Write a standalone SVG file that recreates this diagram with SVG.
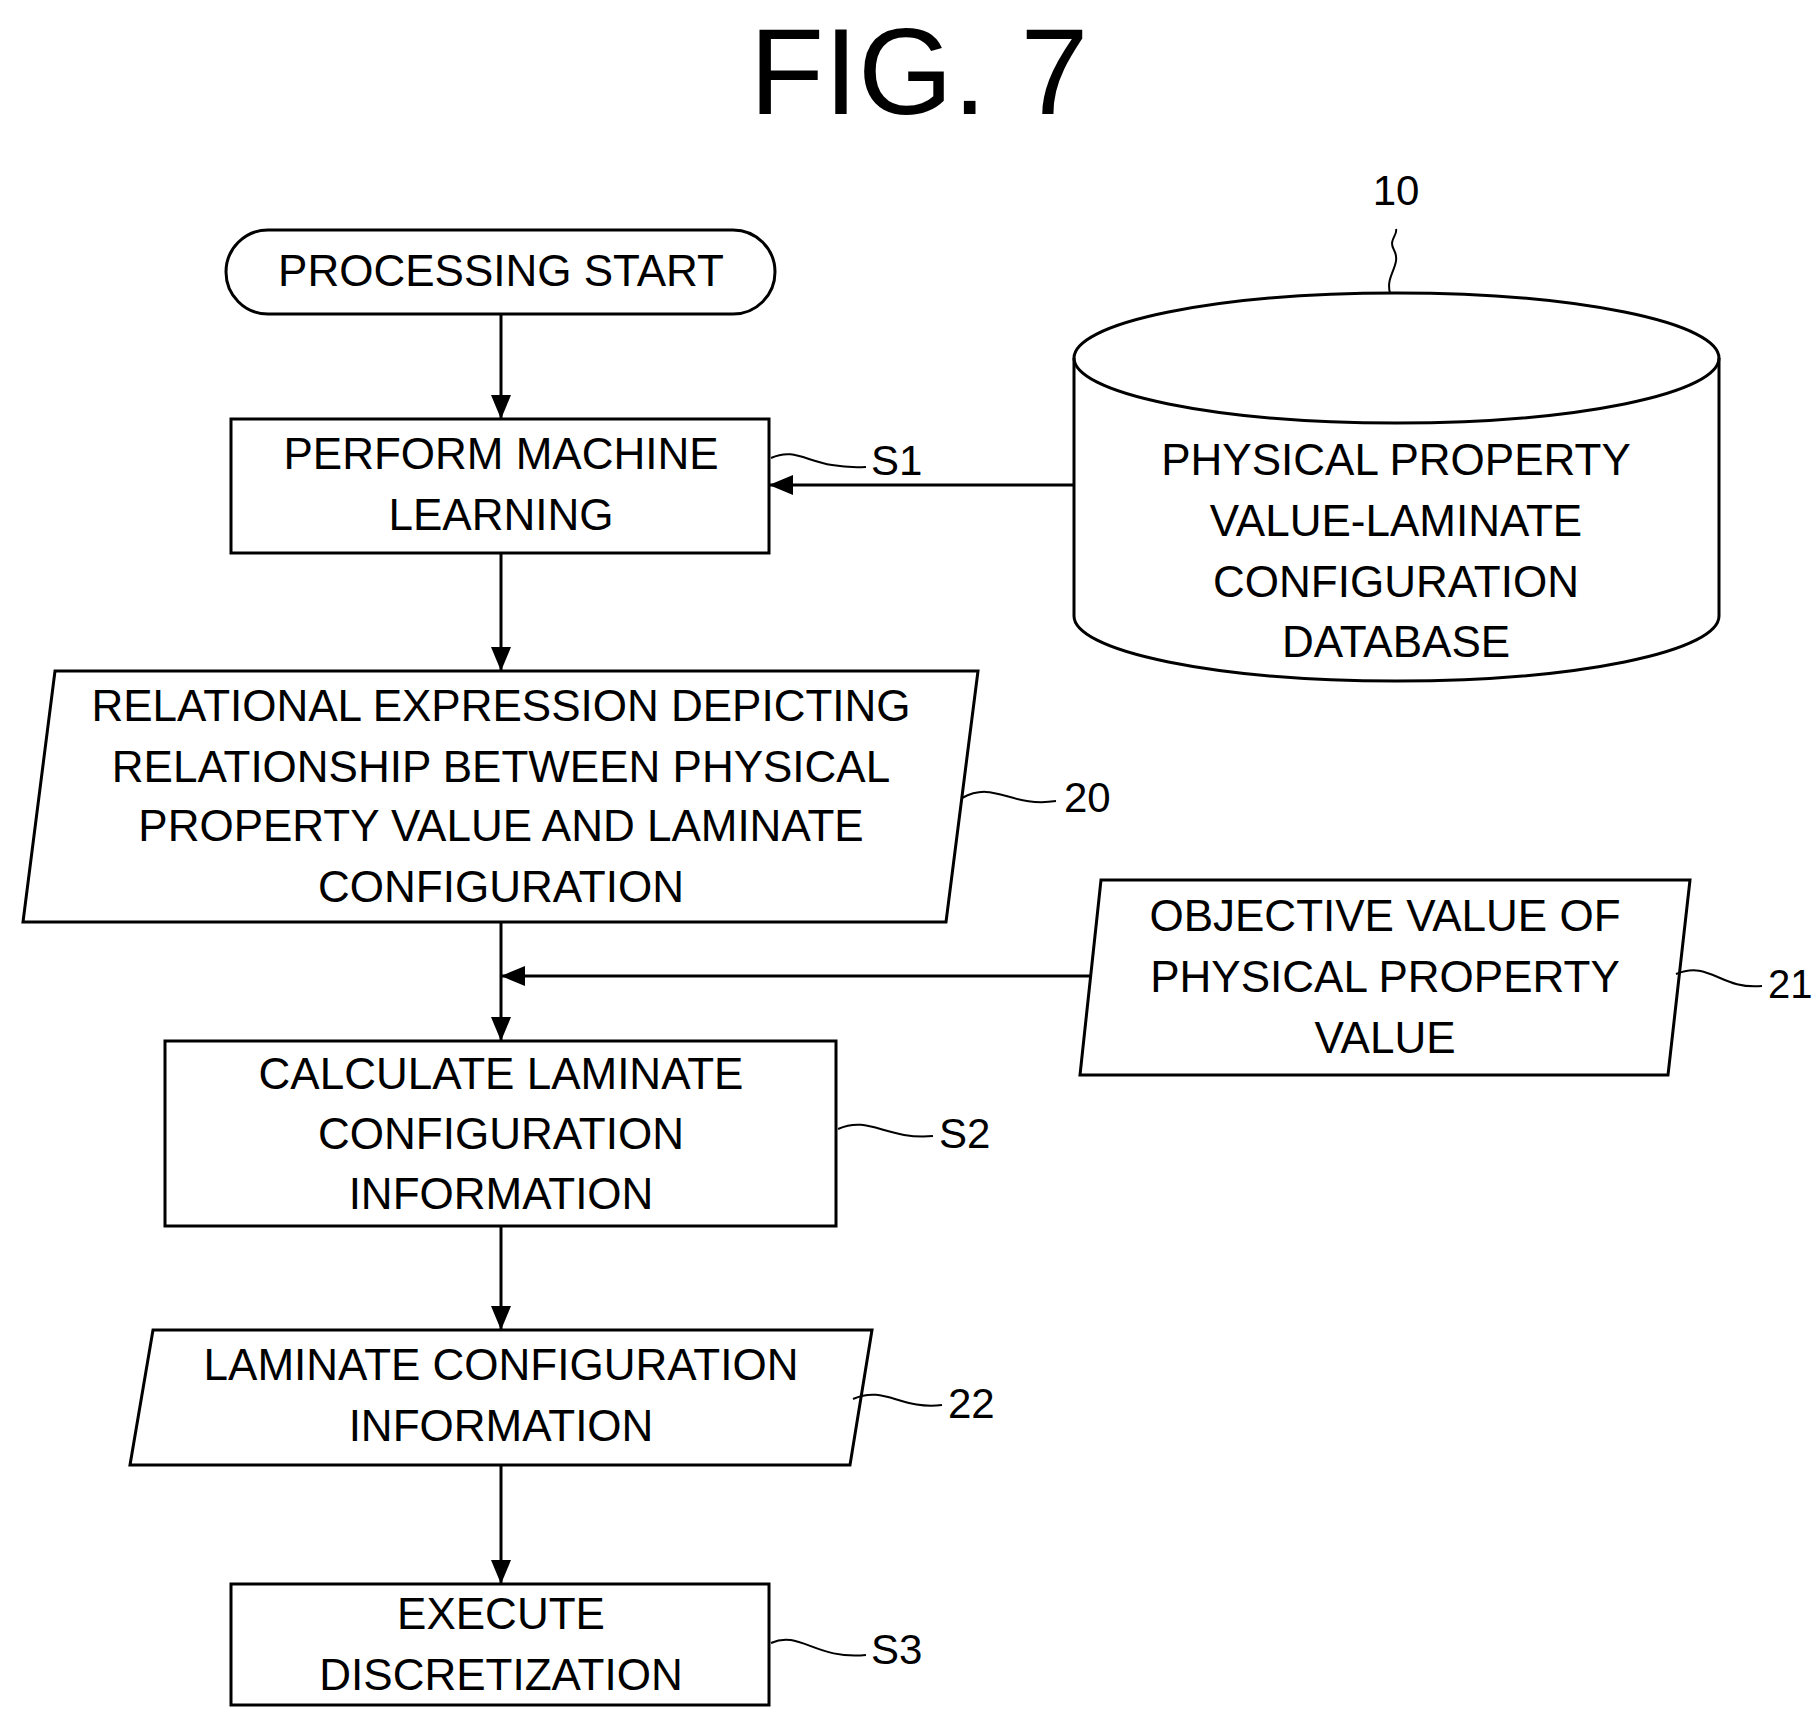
<svg xmlns="http://www.w3.org/2000/svg" width="1819" height="1710" viewBox="0 0 1819 1710">
<defs>
<style>
.t{font-family:"Liberation Sans",Arial,sans-serif;font-size:44px;fill:#000;text-anchor:middle}
.l{font-family:"Liberation Sans",Arial,sans-serif;font-size:42px;fill:#000}
.s{fill:#fff;stroke:#000;stroke-width:3}
.c{fill:none;stroke:#000;stroke-width:3}
.q{fill:none;stroke:#000;stroke-width:2}
</style>
<marker id="a" markerWidth="24" markerHeight="20" refX="23" refY="10" orient="auto" markerUnits="userSpaceOnUse" viewBox="0 0 24 20"><path d="M0,0 L24,10 L0,20 z" fill="#000"/></marker>
</defs>
<rect width="1819" height="1710" fill="#fff"/>
<text x="919" y="114" style="font-family:'Liberation Sans',Arial,sans-serif;font-size:122px;text-anchor:middle">FIG. 7</text>
<g id="connectors">
<line class="c" x1="501" y1="314" x2="501" y2="418" marker-end="url(#a)"/>
<line class="c" x1="1074" y1="485" x2="770" y2="485" marker-end="url(#a)"/>
<line class="c" x1="501" y1="553" x2="501" y2="670" marker-end="url(#a)"/>
<line class="c" x1="501" y1="922" x2="501" y2="1040" marker-end="url(#a)"/>
<line class="c" x1="1091" y1="976" x2="502" y2="976" marker-end="url(#a)"/>
<line class="c" x1="501" y1="1226" x2="501" y2="1329" marker-end="url(#a)"/>
<line class="c" x1="501" y1="1465" x2="501" y2="1583" marker-end="url(#a)"/>
</g>
<g id="start"><rect class="s" x="226" y="230" width="549" height="84" rx="42"/><text class="t" x="501" y="286">PROCESSING START</text></g>
<g id="s1"><rect class="s" x="231" y="419" width="538" height="134"/><text class="t" x="501" y="469">PERFORM MACHINE</text><text class="t" x="501" y="530">LEARNING</text>
<path class="q" d="M771,458 C800,445 810,470 866,467"/><text class="l" x="871" y="475">S1</text></g>
<g id="db10"><path class="s" d="M1074,358 A322.5,65 0 0 1 1719,358 L1719,616 A322.5,65 0 0 1 1074,616 Z"/><path class="c" d="M1074,358 A322.5,65 0 0 0 1719,358"/>
<text class="t" x="1396" y="475">PHYSICAL PROPERTY</text><text class="t" x="1396" y="536">VALUE-LAMINATE</text><text class="t" x="1396" y="597">CONFIGURATION</text><text class="t" x="1396" y="657">DATABASE</text>
<path class="q" d="M1390,293 C1385,275 1402,265 1394,250 C1388,240 1398,235 1396,229"/><text class="l" x="1396" y="205" style="text-anchor:middle">10</text></g>
<g id="n20"><path class="s" d="M55,671 L978,671 L946,922 L23,922 Z"/>
<text class="t" x="501" y="721">RELATIONAL EXPRESSION DEPICTING</text><text class="t" x="501" y="782">RELATIONSHIP BETWEEN PHYSICAL</text><text class="t" x="501" y="841">PROPERTY VALUE AND LAMINATE</text><text class="t" x="501" y="902">CONFIGURATION</text>
<path class="q" d="M962,798 C995,780 1010,808 1056,801"/><text class="l" x="1064" y="812">20</text></g>
<g id="n21"><path class="s" d="M1101,880 L1690,880 L1668,1075 L1080,1075 Z"/>
<text class="t" x="1385" y="931">OBJECTIVE VALUE OF</text><text class="t" x="1385" y="992">PHYSICAL PROPERTY</text><text class="t" x="1385" y="1053">VALUE</text>
<path class="q" d="M1676,974 C1710,960 1720,990 1762,986"/><text class="l" x="1768" y="998" style="font-size:40px">21</text></g>
<g id="s2"><rect class="s" x="165" y="1041" width="671" height="185"/>
<text class="t" x="501" y="1089">CALCULATE LAMINATE</text><text class="t" x="501" y="1149">CONFIGURATION</text><text class="t" x="501" y="1209">INFORMATION</text>
<path class="q" d="M838,1129 C870,1115 885,1140 933,1136"/><text class="l" x="939" y="1148">S2</text></g>
<g id="n22"><path class="s" d="M153,1330 L872,1330 L850,1465 L130,1465 Z"/>
<text class="t" x="501" y="1380">LAMINATE CONFIGURATION</text><text class="t" x="501" y="1441">INFORMATION</text>
<path class="q" d="M853,1399 C885,1385 900,1410 942,1405"/><text class="l" x="948" y="1418">22</text></g>
<g id="s3"><rect class="s" x="231" y="1584" width="538" height="121"/>
<text class="t" x="501" y="1629">EXECUTE</text><text class="t" x="501" y="1690">DISCRETIZATION</text>
<path class="q" d="M771,1643 C800,1630 815,1660 866,1655"/><text class="l" x="871" y="1664">S3</text></g>
</svg>
